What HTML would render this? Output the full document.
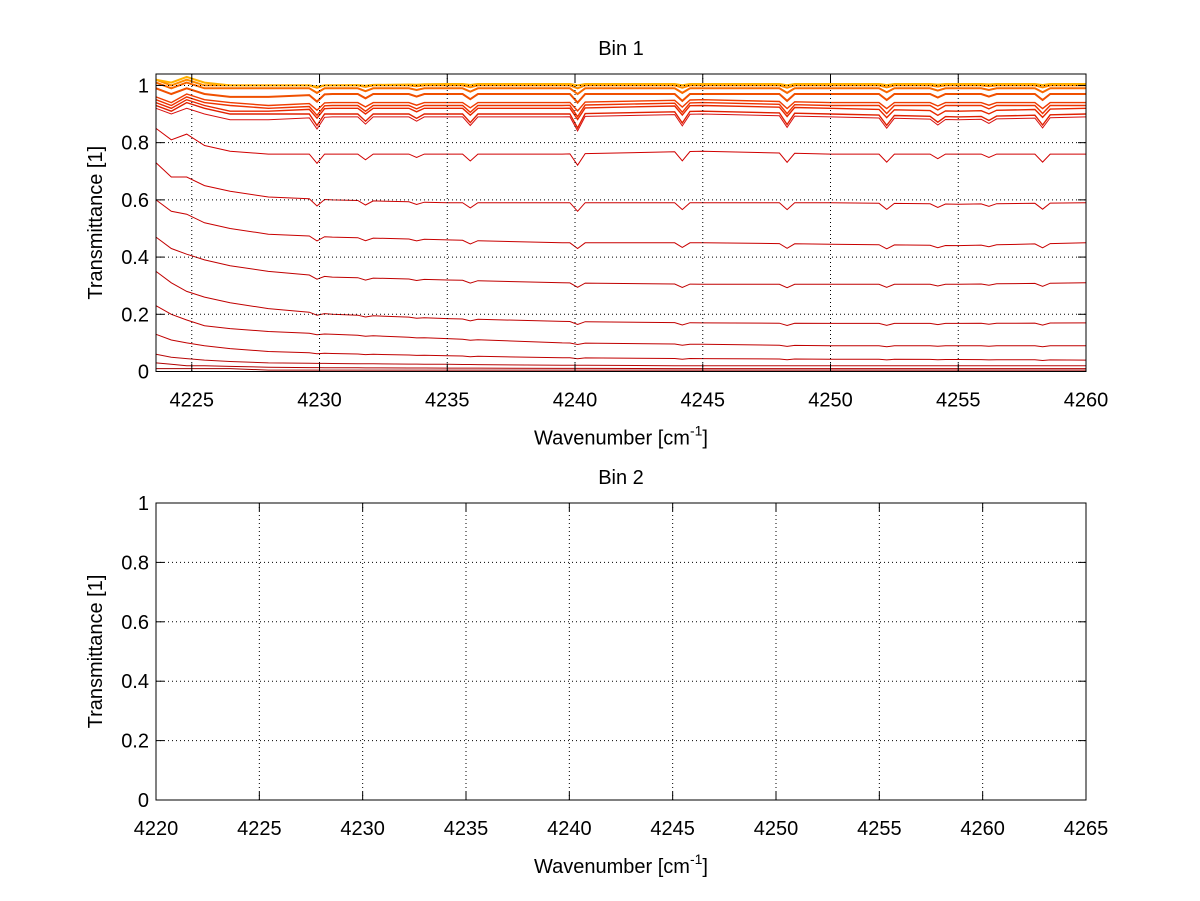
<!DOCTYPE html>
<html><head><meta charset="utf-8"><style>
body{margin:0;background:#fff;}
svg{display:block;font-family:"Liberation Sans",Arial,sans-serif;}
</style></head><body>
<svg id="chart" width="1200" height="901" viewBox="0 0 1200 901" xmlns="http://www.w3.org/2000/svg">
<rect width="1200" height="901" fill="#fff"/>
<g id="p1"></g>
<g id="p2"></g>
</svg>
<script>
// ---- data ----
const knotX = [4223.6, 4224.2, 4224.8, 4225.5, 4226.5, 4228, 4230.5, 4235, 4239.5, 4245, 4250, 4255, 4260];
const dipPos = [4229.9, 4231.8, 4233.8, 4235.9, 4240.1, 4244.2, 4248.3, 4252.2, 4254.2, 4256.2, 4258.3];
const dipRel = [0.8, 0.5, 0.3, 0.6, 1.0, 0.8, 0.8, 0.7, 0.4, 0.3, 0.7];
const seriesLevels = [
 [0.00,0.00,0.00,0.00,0.00,0.00,0.00,0.00,0.00,0.00,0.00,0.00,0.00],
 [0.01,0.01,0.01,0.01,0.01,0.005,0.005,0.005,0.005,0.005,0.005,0.005,0.005],
 [0.03,0.025,0.02,0.02,0.018,0.015,0.013,0.012,0.011,0.01,0.01,0.01,0.01],
 [0.06,0.05,0.045,0.04,0.035,0.03,0.028,0.025,0.022,0.02,0.02,0.02,0.02],
 [0.13,0.11,0.10,0.09,0.08,0.07,0.063,0.055,0.048,0.045,0.043,0.042,0.04],
 [0.23,0.20,0.18,0.16,0.15,0.14,0.13,0.115,0.10,0.095,0.09,0.09,0.09],
 [0.35,0.31,0.28,0.26,0.24,0.22,0.20,0.185,0.175,0.17,0.168,0.168,0.17],
 [0.47,0.43,0.41,0.39,0.37,0.35,0.33,0.32,0.31,0.305,0.305,0.305,0.31],
 [0.60,0.56,0.55,0.52,0.50,0.48,0.47,0.46,0.45,0.45,0.445,0.44,0.45],
 [0.73,0.68,0.68,0.65,0.63,0.61,0.60,0.59,0.59,0.59,0.59,0.585,0.59],
 [0.85,0.81,0.83,0.79,0.77,0.76,0.76,0.76,0.76,0.77,0.76,0.76,0.76],
 [0.92,0.90,0.92,0.90,0.88,0.88,0.89,0.89,0.89,0.90,0.89,0.88,0.89],
 [0.93,0.91,0.94,0.92,0.90,0.90,0.90,0.90,0.90,0.91,0.90,0.89,0.90],
 [0.94,0.92,0.95,0.93,0.91,0.91,0.92,0.92,0.92,0.93,0.92,0.91,0.92],
 [0.95,0.93,0.96,0.94,0.93,0.92,0.93,0.93,0.93,0.94,0.93,0.93,0.93],
 [0.96,0.94,0.97,0.95,0.94,0.93,0.94,0.94,0.94,0.95,0.94,0.94,0.94],
 [0.99,0.97,0.99,0.97,0.96,0.96,0.97,0.97,0.97,0.97,0.97,0.97,0.97],
 [1.01,0.99,1.01,0.99,0.99,0.99,0.99,0.99,0.99,0.99,0.99,0.99,0.99],
 [1.02,1.00,1.02,1.00,1.00,1.00,1.00,1.00,1.00,1.00,1.00,1.00,1.00],
 [1.02,1.01,1.03,1.01,1.00,1.00,1.00,1.005,1.005,1.005,1.005,1.005,1.005]
];
const seriesDip = [0,0,0,0,0.003,0.005,0.01,0.015,0.02,0.03,0.04,0.05,0.05,0.04,0.04,0.03,0.03,0.02,0.01,0.005];
const seriesColor = ["#8b0000","#a00000","#b00000","#b80808","#c00000","#c00000","#c00000","#c00000","#c80000","#cc0000","#d00000","#d81010","#e02000","#e82800","#ee3300","#f03c00","#f05000","#f86800","#ff8c00","#ffb000"];
const xTicks1 = [4225,4230,4235,4240,4245,4250,4255,4260];
const xTicks2 = [4220,4225,4230,4235,4240,4245,4250,4255,4260,4265];
const yTicks1 = [0,0.2,0.4,0.6,0.8,1];
const yTicks2 = [0,0.2,0.4,0.6,0.8,1];

const NS="http://www.w3.org/2000/svg";
function mk(parent,tag,attrs,text){const e=document.createElementNS(NS,tag);for(const k in attrs)e.setAttribute(k,attrs[k]);if(text!==undefined)e.textContent=text;parent.appendChild(e);return e;}

function drawAxes(g,L,R,T,B,xmin,xmax,ymin,ymax,xt,yt,title){
  const sx=v=>L+(v-xmin)/(xmax-xmin)*(R-L);
  const sy=v=>B-(v-ymin)/(ymax-ymin)*(B-T);
  xt.forEach(v=>{const x=sx(v);
    if(x>L+1&&x<R-1){const l=mk(g,'line',{x1:x,x2:x,y1:T,y2:B,stroke:'#000','stroke-width':1,'stroke-dasharray':'1,3'});
    
    }
    mk(g,'line',{x1:x,x2:x,y1:B,y2:B-8,stroke:'#000'});
    mk(g,'line',{x1:x,x2:x,y1:T,y2:T+8,stroke:'#000'});
    const t=mk(g,'text',{x:x,y:B+35,'text-anchor':'middle','font-size':20},String(v));
    
    
  });
  yt.forEach(v=>{const y=sy(v);
    if(y>T+1&&y<B-1){const l=mk(g,'line',{x1:L,x2:R,y1:y,y2:y,stroke:'#000','stroke-width':1,'stroke-dasharray':'1,3'});
    
    }
    mk(g,'line',{x1:L,x2:L+8,y1:y,y2:y,stroke:'#000'});
    mk(g,'line',{x1:R,x2:R-8,y1:y,y2:y,stroke:'#000'});
    const t=mk(g,'text',{x:L-7,y:y+7,'text-anchor':'end','font-size':20},String(v));
    
    
  });
  const ax=mk(g,'rect',{x:L,y:T,width:R-L,height:B-T,fill:'none',stroke:'#000','stroke-width':1});
  
  
  const tt=mk(g,'text',{x:(L+R)/2,y:T-19,'text-anchor':'middle','font-size':20},title);
  
  
  const xl=mk(g,'text',{x:(L+R)/2,y:B+73,'text-anchor':'middle','font-size':20});
  
  
  xl.appendChild(document.createTextNode('Wavenumber [cm'));
  mk(xl,'tspan',{'font-size':14,dy:-9},'-1');
  mk(xl,'tspan',{dy:9},']');
  const yl=mk(g,'text',{x:0,y:0,'text-anchor':'middle','font-size':20,transform:`translate(102,${(T+B)/2}) rotate(-90)`},'Transmittance [1]');
  
  
  return {sx,sy};
}

const g1=document.getElementById('p1');
const L=156,R=1086;
const T1=74,B1=371.5;
const xmin1=4223.6,xmax1=4260,ymax1=1.04;
const sx1=v=>L+(v-xmin1)/(xmax1-xmin1)*(R-L);
const sy1=v=>B1-v/ymax1*(B1-T1);
function baseAt(levels,x){
  for(let i=0;i<knotX.length-1;i++){if(x<=knotX[i+1]){const f=(x-knotX[i])/(knotX[i+1]-knotX[i]);return levels[i]+(levels[i+1]-levels[i])*f;}}
  return levels[levels.length-1];
}
const series=mk(g1,'g',{});


seriesLevels.forEach((lev,si)=>{
  let xs=knotX.slice();
  dipPos.forEach(p=>{xs.push(p-0.3,p,p+0.3);});
  xs.sort((a,b)=>a-b);
  const pts=xs.map(x=>{
    let v=baseAt(lev,x);
    dipPos.forEach((p,di)=>{if(Math.abs(x-p)<1e-6)v-=seriesDip[si]*dipRel[di];});
    v=Math.max(0,v);
    return sx1(x).toFixed(1)+','+sy1(v).toFixed(1);
  });
  const pl=mk(series,'polyline',{points:pts.join(' '),fill:'none',stroke:seriesColor[si],'stroke-width':si>=16?2:(si>=12?1.4:1)});
  
  
});
drawAxes(g1,L,R,T1,B1,xmin1,xmax1,0,ymax1,xTicks1,yTicks1,'Bin 1');

const g2=document.getElementById('p2');
drawAxes(g2,L,R,503,800,4220,4265,0,1,xTicks2,yTicks2,'Bin 2');
</script>
</body></html>
